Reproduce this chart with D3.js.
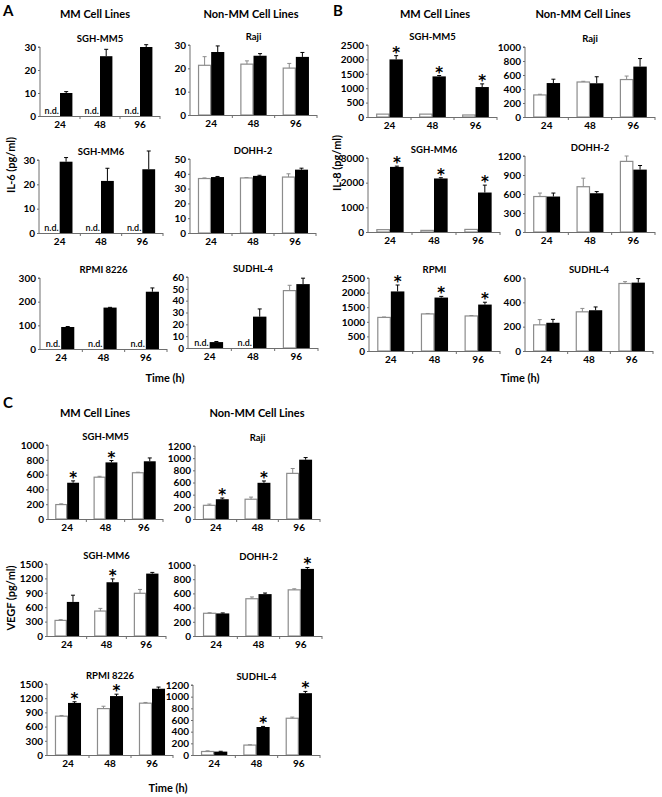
<!DOCTYPE html>
<html><head><meta charset="utf-8">
<script src="https://cdn.jsdelivr.net/npm/d3@7"></script>
<style>
html,body{margin:0;padding:0;background:#fff;}
svg text{font-family:Lato,"Open Sans",sans-serif;font-weight:bold;fill:#000;}
</style></head>
<body>
<svg id="fig" width="662" height="797"></svg>
<script>
// ---------- DATA ----------
// Each entry: [mean, top of error bar]; null = n.d. (not detected)
const timeLabels = ["24", "48", "96"];

// Panel A — IL-6 (pg/ml)
const il6_SGHMM5_white = [null, null, null];
const il6_SGHMM5_black = [[10, 10.6], [26, 29], [30, 31]];
const il6_SGHMM5_ticks = [0, 10, 20, 30];
const il6_Raji_white = [[21.3, 25], [21.8, 23.2], [20.1, 22.1]];
const il6_Raji_black = [[27, 29.6], [25.4, 26.3], [24.9, 26.8]];
const il6_Raji_ticks = [0, 10, 20, 30];
const il6_SGHMM6_white = [null, null, null];
const il6_SGHMM6_black = [[29.3, 31], [21.4, 26.6], [26.2, 33.7]];
const il6_SGHMM6_ticks = [0, 10, 20, 30];
const il6_DOHH2_white = [[36.8, 37.2], [37.2, 37.5], [37.8, 40]];
const il6_DOHH2_black = [[37.8, 38.2], [38.6, 39], [42.8, 43.8]];
const il6_DOHH2_ticks = [0, 10, 20, 30, 40, 50];
const il6_RPMI_white = [null, null, null];
const il6_RPMI_black = [[93, 95], [175, 176], [242, 258]];
const il6_RPMI_ticks = [0, 100, 200, 300];
const il6_SUDHL4_white = [null, null, [48.5, 53]];
const il6_SUDHL4_black = [[5, 5.5], [26.5, 33], [54, 59]];
const il6_SUDHL4_ticks = [0, 10, 20, 30, 40, 50, 60];

// Panel B — IL-8 (pg/ml)
const il8_SGHMM5_white = [[100, 100], [100, 100], [70, 70]];
const il8_SGHMM5_black = [[2000, 2130], [1410, 1440], [1040, 1150]];
const il8_SGHMM5_stars = [1, 1, 1];
const il8_SGHMM5_ticks = [0, 500, 1000, 1500, 2000, 2500];
const il8_Raji_white = [[315, 325], [500, 510], [535, 585]];
const il8_Raji_black = [[485, 540], [482, 575], [720, 835]];
const il8_Raji_ticks = [0, 200, 400, 600, 800, 1000];
const il8_SGHMM6_white = [[95, 95], [65, 65], [105, 105]];
const il8_SGHMM6_black = [[2640, 2670], [2170, 2200], [1600, 1900]];
const il8_SGHMM6_stars = [1, 1, 1];
const il8_SGHMM6_ticks = [0, 1000, 2000, 3000];
const il8_DOHH2_white = [[560, 615], [715, 850], [1115, 1200]];
const il8_DOHH2_black = [[560, 615], [612, 638], [985, 1050]];
const il8_DOHH2_ticks = [0, 300, 600, 900, 1200];
const il8_RPMI_white = [[1150, 1165], [1270, 1285], [1200, 1215]];
const il8_RPMI_black = [[2040, 2260], [1830, 1870], [1590, 1670]];
const il8_RPMI_stars = [1, 1, 1];
const il8_RPMI_ticks = [0, 500, 1000, 1500, 2000, 2500];
const il8_SUDHL4_white = [[215, 258], [322, 350], [555, 570]];
const il8_SUDHL4_black = [[232, 260], [335, 362], [562, 595]];
const il8_SUDHL4_ticks = [0, 200, 400, 600];

// Panel C — VEGF (pg/ml)
const vegf_SGHMM5_white = [[195, 205], [565, 577], [625, 632]];
const vegf_SGHMM5_black = [[490, 515], [765, 790], [780, 825]];
const vegf_SGHMM5_stars = [1, 1, 0];
const vegf_SGHMM5_ticks = [0, 200, 400, 600, 800, 1000];
const vegf_Raji_white = [[225, 245], [325, 360], [750, 830]];
const vegf_Raji_black = [[325, 345], [595, 625], [975, 1010]];
const vegf_Raji_stars = [1, 1, 0];
const vegf_Raji_ticks = [0, 200, 400, 600, 800, 1000, 1200];
const vegf_SGHMM6_white = [[325, 340], [520, 575], [890, 970]];
const vegf_SGHMM6_black = [[710, 850], [1120, 1190], [1300, 1325]];
const vegf_SGHMM6_stars = [0, 1, 0];
const vegf_SGHMM6_ticks = [0, 300, 600, 900, 1200, 1500];
const vegf_DOHH2_white = [[320, 328], [525, 550], [650, 665]];
const vegf_DOHH2_black = [[318, 325], [590, 605], [945, 965]];
const vegf_DOHH2_stars = [0, 0, 1];
const vegf_DOHH2_ticks = [0, 200, 400, 600, 800, 1000];
const vegf_RPMI_white = [[820, 835], [980, 1030], [1095, 1110]];
const vegf_RPMI_black = [[1100, 1125], [1245, 1285], [1400, 1435]];
const vegf_RPMI_stars = [1, 1, 0];
const vegf_RPMI_ticks = [0, 300, 600, 900, 1200, 1500];
const vegf_SUDHL4_white = [[60, 72], [170, 176], [630, 650]];
const vegf_SUDHL4_black = [[58, 64], [480, 490], [1060, 1090]];
const vegf_SUDHL4_stars = [0, 1, 1];
const vegf_SUDHL4_ticks = [0, 200, 400, 600, 800, 1000, 1200];

// ---------- LAYOUT ----------
// box: [x0 (y-axis), x1 (x-axis end), y of top tick, y of baseline]
const subplots = [
  {title: "SGH-MM5", white: il6_SGHMM5_white, black: il6_SGHMM5_black, ticks: il6_SGHMM5_ticks, box: [40, 160, 47, 116]},
  {title: "Raji", white: il6_Raji_white, black: il6_Raji_black, ticks: il6_Raji_ticks, box: [190, 317, 45, 115]},
  {title: "SGH-MM6", white: il6_SGHMM6_white, black: il6_SGHMM6_black, ticks: il6_SGHMM6_ticks, box: [39, 163, 160, 233]},
  {title: "DOHH-2", white: il6_DOHH2_white, black: il6_DOHH2_black, ticks: il6_DOHH2_ticks, box: [190, 316, 159, 233]},
  {title: "RPMI 8226", white: il6_RPMI_white, black: il6_RPMI_black, ticks: il6_RPMI_ticks, box: [40, 167, 278, 349]},
  {title: "SUDHL-4", white: il6_SUDHL4_white, black: il6_SUDHL4_black, ticks: il6_SUDHL4_ticks, box: [188, 318, 277, 348]},

  {title: "SGH-MM5", white: il8_SGHMM5_white, black: il8_SGHMM5_black, ticks: il8_SGHMM5_ticks, stars: il8_SGHMM5_stars, box: [368, 497, 45, 117]},
  {title: "Raji", white: il8_Raji_white, black: il8_Raji_black, ticks: il8_Raji_ticks, box: [525, 655, 47, 117]},
  {title: "SGH-MM6", white: il8_SGHMM6_white, black: il8_SGHMM6_black, ticks: il8_SGHMM6_ticks, stars: il8_SGHMM6_stars, box: [368, 500, 158, 232]},
  {title: "DOHH-2", white: il8_DOHH2_white, black: il8_DOHH2_black, ticks: il8_DOHH2_ticks, box: [525, 655, 156, 232]},
  {title: "RPMI", white: il8_RPMI_white, black: il8_RPMI_black, ticks: il8_RPMI_ticks, stars: il8_RPMI_stars, box: [369, 500, 278, 351]},
  {title: "SUDHL-4", white: il8_SUDHL4_white, black: il8_SUDHL4_black, ticks: il8_SUDHL4_ticks, box: [525, 653, 278, 351]},

  {title: "SGH-MM5", white: vegf_SGHMM5_white, black: vegf_SGHMM5_black, ticks: vegf_SGHMM5_ticks, stars: vegf_SGHMM5_stars, box: [48, 163, 445, 519]},
  {title: "Raji", white: vegf_Raji_white, black: vegf_Raji_black, ticks: vegf_Raji_ticks, stars: vegf_Raji_stars, box: [195, 320, 446, 519]},
  {title: "SGH-MM6", white: vegf_SGHMM6_white, black: vegf_SGHMM6_black, ticks: vegf_SGHMM6_ticks, stars: vegf_SGHMM6_stars, box: [47, 166, 564, 636]},
  {title: "DOHH-2", white: vegf_DOHH2_white, black: vegf_DOHH2_black, ticks: vegf_DOHH2_ticks, stars: vegf_DOHH2_stars, box: [195, 322, 565, 636]},
  {title: "RPMI 8226", white: vegf_RPMI_white, black: vegf_RPMI_black, ticks: vegf_RPMI_ticks, stars: vegf_RPMI_stars, box: [47, 173, 684, 755]},
  {title: "SUDHL-4", white: vegf_SUDHL4_white, black: vegf_SUDHL4_black, ticks: vegf_SUDHL4_ticks, stars: vegf_SUDHL4_stars, box: [193, 320, 685, 755]}
];

const svg = d3.select("#fig");
const AX = "#6e6e6e";

function errBar(g, cx, yv, ye, col) {
  g.append("line").attr("x1", cx).attr("x2", cx).attr("y1", yv).attr("y2", ye).attr("stroke", col).attr("stroke-width", 1);
  g.append("line").attr("x1", cx - 2).attr("x2", cx + 2).attr("y1", ye).attr("y2", ye).attr("stroke", col).attr("stroke-width", 1);
}

function drawSubplot(sp) {
  const [x0, x1, yT, yB] = sp.box;
  const g = svg.append("g");
  const ymax = sp.ticks[sp.ticks.length - 1];
  const y = d3.scaleLinear().domain([0, ymax]).range([yB, yT]);
  const x = d3.scaleBand().domain(timeLabels).range([x0, x1]).paddingInner(0).paddingOuter(0);
  const bw = x.bandwidth();
  const barW = bw * 0.31;

  g.append("text").attr("x", (x0 + x1) / 2).attr("y", yT - 5)
    .attr("text-anchor", "middle").attr("font-size", 9.5).text(sp.title);

  const ya = g.append("g").attr("transform", `translate(${x0},0)`)
    .call(d3.axisLeft(y).tickValues(sp.ticks).tickSize(2).tickPadding(2).tickFormat(d3.format("d")));
  ya.select(".domain").attr("stroke", AX).attr("d", `M-2,${yT}H0V${yB}`);
  ya.selectAll(".tick line").attr("stroke", AX);
  ya.selectAll(".tick text").attr("font-size", 10).attr("font-family", "Lato, sans-serif").attr("font-weight", "bold").attr("fill", "#000");

  const xa = g.append("g").attr("transform", `translate(0,${yB})`)
    .call(d3.axisBottom(x).tickSize(0).tickPadding(5));
  xa.select(".domain").remove();
  xa.selectAll(".tick text").attr("font-size", 10).attr("font-family", "Lato, sans-serif").attr("font-weight", "bold").attr("fill", "#000");

  const rows = timeLabels.map((t, i) => ({t, w: sp.white[i], b: sp.black[i], s: sp.stars ? sp.stars[i] : 0}));
  rows.forEach(r => {
    const cx = x(r.t) + bw / 2;
    const wx = cx - barW, bx = cx;
    if (r.w) {
      g.append("rect").attr("x", wx + 0.5).attr("y", y(r.w[0]))
        .attr("width", barW - 1).attr("height", yB - y(r.w[0]))
        .attr("fill", "#fff").attr("stroke", "#8c8c8c").attr("stroke-width", 1.2);
      if (r.w[1] > r.w[0]) errBar(g, wx + barW / 2, y(r.w[0]), y(r.w[1]), "#8c8c8c");
    } else {
      g.append("text").attr("x", bx - 1).attr("y", yB - 2)
        .attr("text-anchor", "end").attr("font-size", 9)
        .style("font-weight", "600").text("n.d.");
    }
    if (r.b) {
      g.append("rect").attr("x", bx).attr("y", y(r.b[0]))
        .attr("width", barW).attr("height", yB - y(r.b[0]))
        .attr("fill", "#000");
      if (r.b[1] > r.b[0]) errBar(g, bx + barW / 2, y(r.b[0]), y(r.b[1]), "#000");
      if (r.s) {
        g.append("text").attr("x", bx + barW / 2).attr("y", y(r.b[1]) + 2)
          .attr("text-anchor", "middle").attr("font-size", 15)
          .style("font-family", "'DejaVu Sans', sans-serif").text("*");
      }
    }
  });

  g.append("line").attr("x1", x0).attr("x2", x1).attr("y1", yB + 0.5).attr("y2", yB + 0.5)
    .attr("stroke", AX);
  timeLabels.forEach(t => {
    const bx = x(t) + bw;
    g.append("line").attr("x1", bx).attr("x2", bx).attr("y1", yB).attr("y2", yB + 3).attr("stroke", AX);
  });
}

subplots.forEach(drawSubplot);

// ---------- TEXT LABELS ----------
const panelLetters = [["A", 3, 16], ["B", 333, 16], ["C", 3, 408]];
panelLetters.forEach(([t, px, py]) =>
  svg.append("text").attr("x", px).attr("y", py).attr("font-size", 15).text(t));

const groupHeaders = [
  ["MM Cell Lines", 95, 18], ["Non-MM Cell Lines", 251, 18],
  ["MM Cell Lines", 435, 18], ["Non-MM Cell Lines", 583, 18],
  ["MM Cell Lines", 95, 417], ["Non-MM Cell Lines", 257, 417]
];
groupHeaders.forEach(([t, px, py]) =>
  svg.append("text").attr("x", px).attr("y", py).attr("text-anchor", "middle").attr("font-size", 11).text(t));

const yTitles = [["IL-6 (pg/ml)", 15, 165], ["IL-8 (pg/ml)", 341, 163], ["VEGF (pg/ml)", 15, 598]];
yTitles.forEach(([t, px, py]) =>
  svg.append("text").attr("transform", `translate(${px},${py}) rotate(-90)`)
    .attr("text-anchor", "middle").attr("font-size", 11).text(t));

const xTitles = [["Time (h)", 165, 382], ["Time (h)", 520, 382], ["Time (h)", 168, 792]];
xTitles.forEach(([t, px, py]) =>
  svg.append("text").attr("x", px).attr("y", py).attr("text-anchor", "middle").attr("font-size", 11).text(t));
</script>
</body></html>
